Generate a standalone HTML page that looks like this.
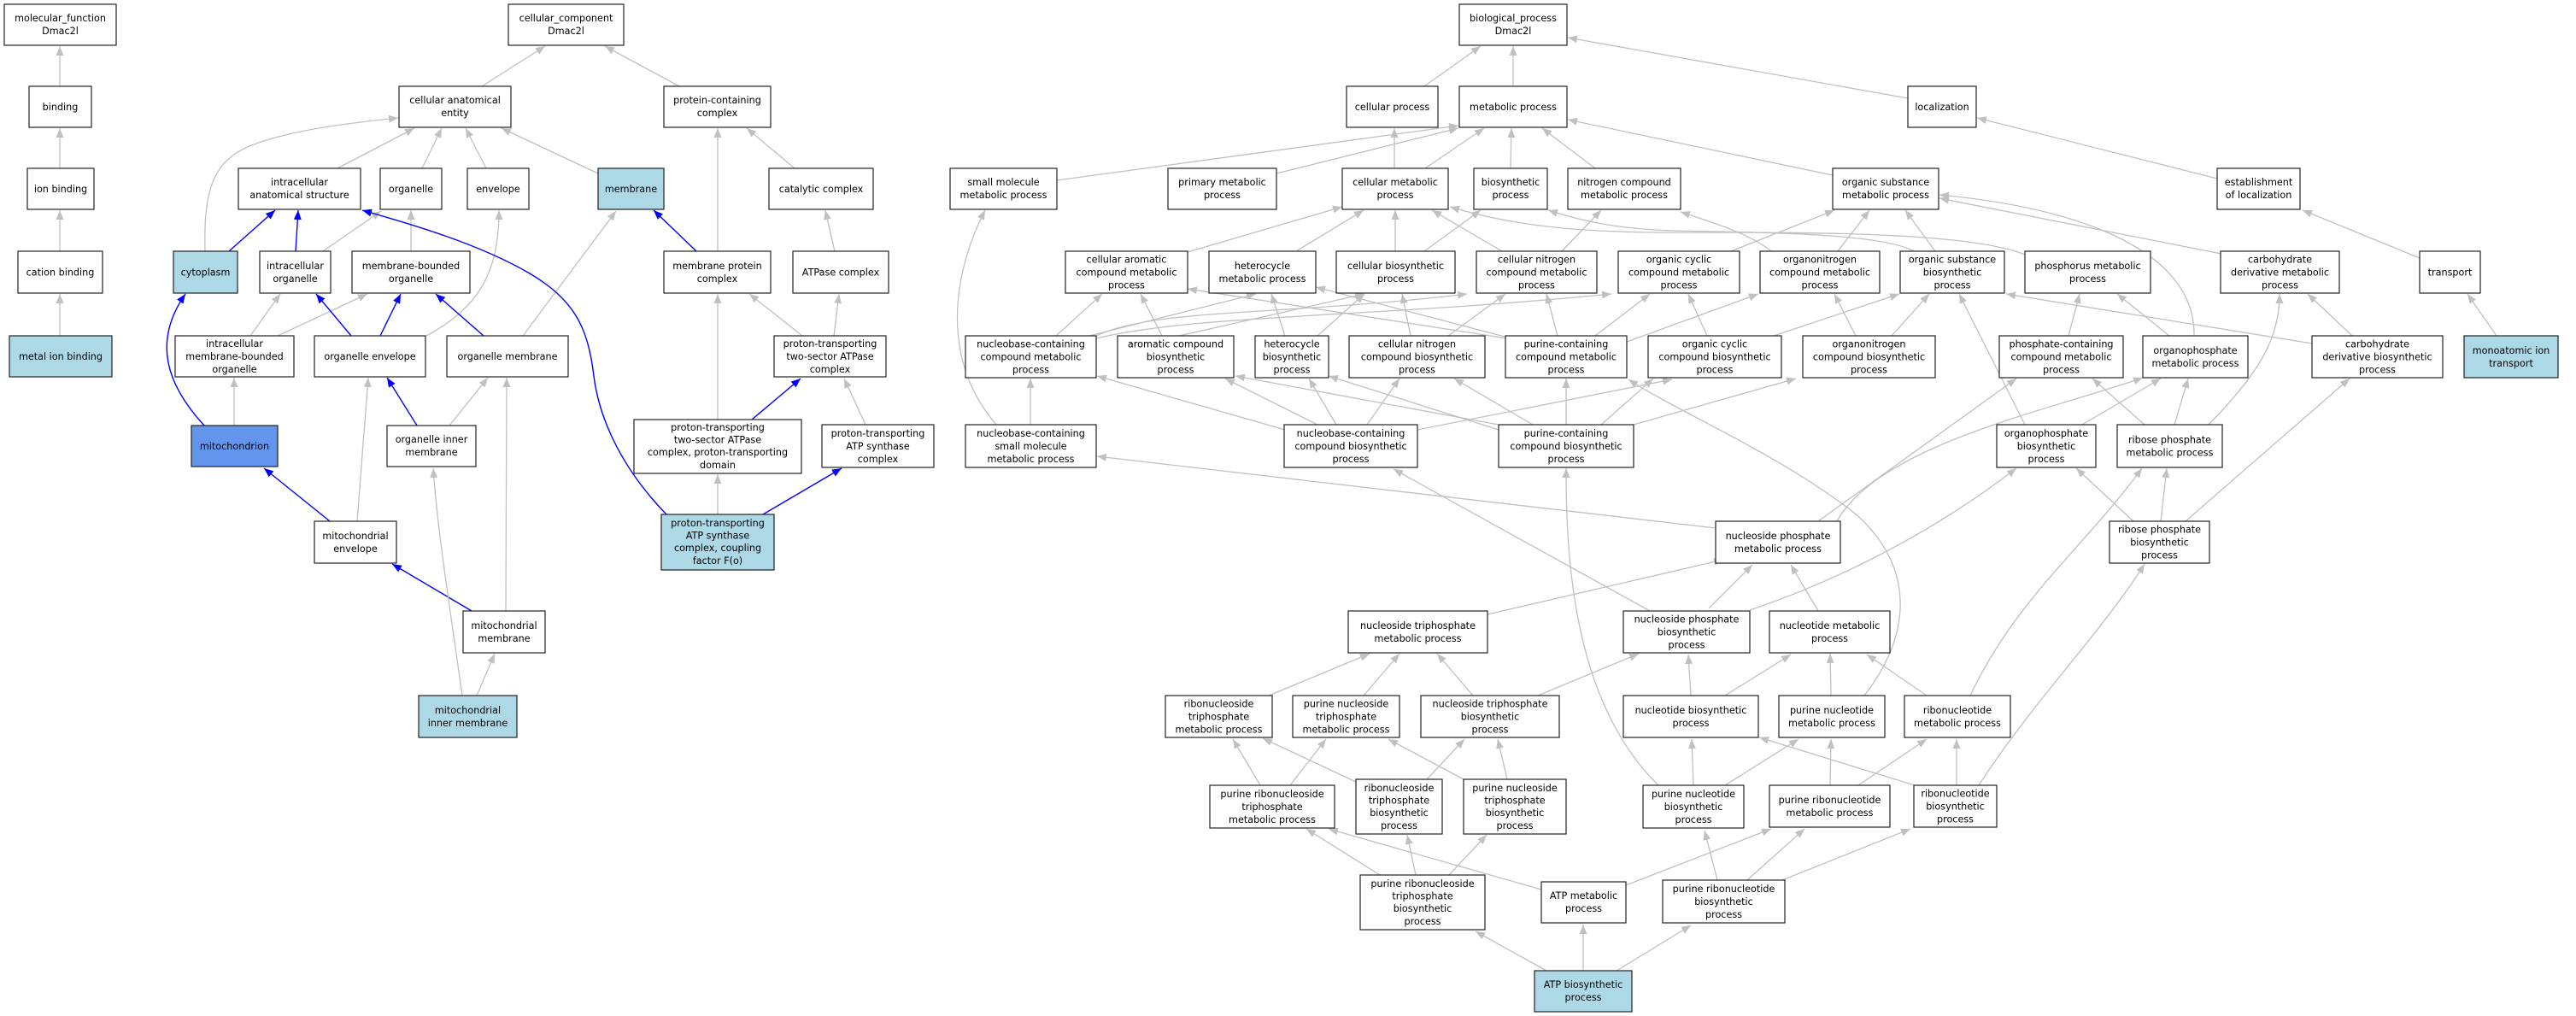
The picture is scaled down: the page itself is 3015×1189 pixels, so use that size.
<!DOCTYPE html>
<html><head><meta charset="utf-8"><style>
html,body{margin:0;padding:0;background:#fff;}
svg{display:block;}
text{font-family:"DejaVu Sans","Liberation Sans",sans-serif;font-size:11.2px;fill:#000;text-anchor:middle;}
.g{fill:none;stroke:#c0c0c0;stroke-width:1.3;marker-end:url(#ag);}
.b{fill:none;stroke:#0000ff;stroke-width:1.4;marker-end:url(#ab);}
rect{stroke:#222;stroke-width:1.2;fill:#fff;}
rect.lb{fill:#add8e6;}
rect.cb{fill:#6495ed;}
</style></head><body>
<svg width="3015" height="1189" viewBox="0 0 3015 1189" xmlns="http://www.w3.org/2000/svg">
<defs>
<marker id="ag" markerUnits="userSpaceOnUse" markerWidth="12" markerHeight="9" refX="11" refY="4.5" orient="auto"><path d="M0,0 L11,4.5 L0,9 z" fill="#c0c0c0"/></marker>
<marker id="ab" markerUnits="userSpaceOnUse" markerWidth="12" markerHeight="9" refX="11" refY="4.5" orient="auto"><path d="M0,0 L11,4.5 L0,9 z" fill="#0000ff"/></marker>
</defs>

<!-- ===== edges left ===== -->
<path class="g" d="M70,101 L70,54"/>
<path class="g" d="M70,197 L70,150"/>
<path class="g" d="M70,294 L70,246"/>
<path class="g" d="M70,393 L70,344"/>
<path class="g" d="M564,101 L638,54"/>
<path class="g" d="M795,101 L708,54"/>
<path class="g" d="M240,294 C238,220 250,185 300,168 C350,150 420,143 466,138"/>
<path class="g" d="M395,197 L485,150"/>
<path class="g" d="M494,197 L517,150"/>
<path class="g" d="M569,197 L545,150"/>
<path class="g" d="M700,203 L587,150"/>
<path class="g" d="M930,197 L874,150"/>
<path class="g" d="M840,294 L840,150"/>
<path class="b" d="M268,294 L322,246"/>
<path class="b" d="M346,294 L349,246"/>
<path class="g" d="M378,294 L446,247"/>
<path class="g" d="M481,294 L481,246"/>
<path class="b" d="M815,294 L765,246"/>
<path class="g" d="M977,294 L966,246"/>
<path class="g" d="M293,393 L328,344"/>
<path class="g" d="M325,393 L430,344"/>
<path class="b" d="M411,393 L370,344"/>
<path class="b" d="M445,393 L469,344"/>
<path class="g" d="M499,393 C560,360 584,320 584,246"/>
<path class="b" d="M566,393 L510,344"/>
<path class="g" d="M612,393 L721,247"/>
<path class="g" d="M939,393 L877,344"/>
<path class="g" d="M976,393 L982,344"/>
<path class="b" d="M239,498 C195,450 178,400 217,344"/>
<path class="g" d="M274,498 L274,442"/>
<path class="b" d="M488,498 L453,442"/>
<path class="g" d="M526,498 L571,442"/>
<path class="g" d="M840,491 L840,344"/>
<path class="b" d="M880,491 L937,443"/>
<path class="g" d="M1013,497 L988,443"/>
<path class="b" d="M386,610 L309,548"/>
<path class="g" d="M418,610 L431,442"/>
<path class="g" d="M840,602 L840,555"/>
<path class="b" d="M893,602 L985,548"/>
<path class="b" d="M780,602 C720,540 700,480 695,440 C688,380 670,350 620,320 C560,285 480,262 424,246"/>
<path class="b" d="M552,715 L459,660"/>
<path class="g" d="M592,715 L593,442"/>
<path class="g" d="M558,814 L579,765"/>
<path class="g" d="M541,814 C525,700 512,620 507,548"/>

<!-- ===== edges right ===== -->
<path class="g" d="M1667,101 L1733,54"/>
<path class="g" d="M1771,101 L1771,54"/>
<path class="g" d="M2233,115 L1835,44"/>
<path class="g" d="M1237,211 L1707,147"/>
<path class="g" d="M1494,203 L1707,150"/>
<path class="g" d="M1632,197 L1632,150"/>
<path class="g" d="M1668,197 L1737,150"/>
<path class="g" d="M1768,197 L1769,150"/>
<path class="g" d="M1867,197 L1805,150"/>
<path class="g" d="M2145,205 L1835,140"/>
<path class="g" d="M2595,209 L2314,138"/>
<path class="g" d="M2832,302 L2695,246"/>
<path class="g" d="M2922,393 L2888,344"/>
<path class="g" d="M1390,295 L1571,242"/>
<path class="g" d="M1517,294 L1596,246"/>
<path class="g" d="M1633,294 L1633,246"/>
<path class="g" d="M1667,294 L1733,246"/>
<path class="g" d="M1758,294 L1676,246"/>
<path class="g" d="M1828,294 L1874,246"/>
<path class="g" d="M2026,294 L2147,246"/>
<path class="g" d="M2151,294 L2188,246"/>
<path class="g" d="M2073,294 C2050,275 2010,262 1967,248"/>
<path class="g" d="M2265,294 L2230,246"/>
<path class="g" d="M2240,294 C2200,272 2050,272 1960,270 C1890,268 1850,258 1812,246"/>
<path class="g" d="M2370,298 C2300,270 2100,272 1950,272 C1820,272 1750,258 1697,242"/>
<path class="g" d="M2600,297 L2270,232"/>
<path class="g" d="M2568,393 C2570,300 2450,245 2270,228"/>
<!-- row E -> D -->
<path class="g" d="M1236,393 L1290,344"/>
<path class="g" d="M1275,393 L1470,344"/>
<path class="g" d="M1281,394 C1350,360 1500,370 1717,344"/>
<path class="g" d="M1283,396 C1400,368 1600,372 1886,344"/>
<path class="g" d="M1360,393 L1335,344"/>
<path class="g" d="M1380,393 L1597,344"/>
<path class="g" d="M1504,393 L1488,344"/>
<path class="g" d="M1542,393 L1597,344"/>
<path class="g" d="M1695,393 L1762,344"/>
<path class="g" d="M1651,393 L1641,344"/>
<path class="g" d="M1765,395 L1540,336"/>
<path class="g" d="M1770,397 L1390,338"/>
<path class="g" d="M1823,393 L1810,344"/>
<path class="g" d="M1867,393 L1931,344"/>
<path class="g" d="M1904,400 L2058,344"/>
<path class="g" d="M1998,393 L1976,344"/>
<path class="g" d="M2076,393 L2223,344"/>
<path class="g" d="M2172,393 L2147,344"/>
<path class="g" d="M2214,393 L2258,344"/>
<path class="g" d="M2421,393 L2434,344"/>
<path class="g" d="M2539,393 L2478,344"/>
<path class="g" d="M2753,393 L2701,344"/>
<path class="g" d="M2706,402 L2348,344"/>
<!-- row F -> E -->
<path class="g" d="M1206,497 L1206,443"/>
<path class="g" d="M1166,497 C1100,420 1115,320 1153,246"/>
<path class="g" d="M1504,503 L1284,440"/>
<path class="g" d="M1542,497 L1434,443"/>
<path class="g" d="M1564,497 L1532,443"/>
<path class="g" d="M1600,497 L1638,443"/>
<path class="g" d="M1659,503 L1957,444"/>
<path class="g" d="M1833,497 L1833,443"/>
<path class="g" d="M1754,503 L1555,440"/>
<path class="g" d="M1754,497 L1446,440"/>
<path class="g" d="M1794,497 L1702,443"/>
<path class="g" d="M1874,497 L1935,443"/>
<path class="g" d="M1912,497 L2102,443"/>
<path class="g" d="M2370,497 L2293,344"/>
<path class="g" d="M2437,497 L2529,443"/>
<path class="g" d="M2545,497 L2561,443"/>
<path class="g" d="M2510,497 L2449,443"/>
<path class="g" d="M2585,497 C2640,440 2668,400 2668,344"/>
<!-- lower -->
<path class="g" d="M2008,618 L1284,534"/>
<path class="g" d="M2128,610 L2360,443"/>
<path class="g" d="M2150,610 C2200,520 2400,480 2508,442"/>
<path class="g" d="M2529,610 L2536,548"/>
<path class="g" d="M2497,610 L2430,548"/>
<path class="g" d="M2558,610 L2750,443"/>
<path class="g" d="M2000,712 L2051,661"/>
<path class="g" d="M1931,715 L1631,549"/>
<path class="g" d="M2048,714 C2120,690 2240,640 2360,548"/>
<path class="g" d="M2128,715 L2096,661"/>
<path class="g" d="M1741,719 L2017,655"/>
<path class="g" d="M2143,814 L2142,765"/>
<path class="g" d="M2182,814 C2240,740 2240,660 2170,600 C2080,530 1960,480 1906,444"/>
<path class="g" d="M2255,814 L2185,766"/>
<path class="g" d="M2306,814 C2360,700 2440,640 2507,548"/>
<path class="g" d="M1979,814 L1976,766"/>
<path class="g" d="M2019,814 L2096,766"/>
<path class="g" d="M1982,919 L1980,865"/>
<path class="g" d="M1941,919 C1840,820 1833,650 1833,548"/>
<path class="g" d="M2019,919 L2105,865"/>
<path class="g" d="M2142,919 L2143,865"/>
<path class="g" d="M2175,919 L2255,865"/>
<path class="g" d="M2290,919 L2290,865"/>
<path class="g" d="M2241,919 L2059,863"/>
<path class="g" d="M2316,919 C2380,820 2460,740 2510,660"/>
<path class="g" d="M2045,1030 L2112,970"/>
<path class="g" d="M2010,1030 L1995,972"/>
<path class="g" d="M2086,1030 L2236,970"/>
<path class="g" d="M1724,814 L1682,765"/>
<path class="g" d="M1800,814 L1918,765"/>
<path class="g" d="M1485,814 L1603,765"/>
<path class="g" d="M1596,814 L1638,765"/>
<path class="g" d="M1475,919 L1443,865"/>
<path class="g" d="M1510,919 L1552,865"/>
<path class="g" d="M1587,915 L1478,864"/>
<path class="g" d="M1670,912 L1714,865"/>
<path class="g" d="M1713,912 L1625,865"/>
<path class="g" d="M1764,912 L1753,865"/>
<path class="g" d="M1615,1024 L1529,970"/>
<path class="g" d="M1657,1024 L1647,977"/>
<path class="g" d="M1696,1024 L1740,977"/>
<path class="g" d="M1804,1041 L1555,970"/>
<path class="g" d="M1903,1036 L2073,970"/>
<path class="g" d="M1810,1136 L1727,1090"/>
<path class="g" d="M1853,1136 L1853,1082"/>
<path class="g" d="M1892,1136 L1979,1083"/>

<!-- ===== nodes ===== -->
<rect x="5" y="5" width="131" height="48"/><text x="70.5" y="25">molecular_function<tspan x="70.5" dy="15">Dmac2l</tspan></text>
<rect x="34" y="101" width="73" height="48"/><text x="70.5" y="129">binding</text>
<rect x="32" y="197" width="78" height="48"/><text x="71" y="225">ion binding</text>
<rect x="21" y="294" width="99" height="49"/><text x="70.5" y="322.5">cation binding</text>
<rect class="lb" x="11" y="393" width="120" height="48"/><text x="71" y="421">metal ion binding</text>
<rect x="595" y="5" width="135" height="48"/><text x="662.5" y="25">cellular_component<tspan x="662.5" dy="15">Dmac2l</tspan></text>
<rect x="467" y="101" width="131" height="48"/><text x="532.5" y="121">cellular anatomical<tspan x="532.5" dy="15">entity</tspan></text>
<rect x="777" y="101" width="125" height="48"/><text x="839.5" y="121">protein-containing<tspan x="839.5" dy="15">complex</tspan></text>
<rect x="279" y="197" width="143" height="48"/><text x="350.5" y="217">intracellular<tspan x="350.5" dy="15">anatomical structure</tspan></text>
<rect x="445" y="197" width="72" height="48"/><text x="481" y="225">organelle</text>
<rect x="547" y="197" width="72" height="48"/><text x="583" y="225">envelope</text>
<rect class="lb" x="700" y="197" width="77" height="48"/><text x="738.5" y="225">membrane</text>
<rect x="900" y="197" width="122" height="48"/><text x="961" y="225">catalytic complex</text>
<rect class="lb" x="203" y="294" width="75" height="49"/><text x="240.5" y="322.5">cytoplasm</text>
<rect x="304" y="294" width="83" height="49"/><text x="345.5" y="315">intracellular<tspan x="345.5" dy="15">organelle</tspan></text>
<rect x="412" y="294" width="138" height="49"/><text x="481" y="315">membrane-bounded<tspan x="481" dy="15">organelle</tspan></text>
<rect x="777" y="294" width="125" height="49"/><text x="839.5" y="315">membrane protein<tspan x="839.5" dy="15">complex</tspan></text>
<rect x="928" y="294" width="112" height="49"/><text x="984" y="322.5">ATPase complex</text>
<rect x="205" y="393" width="139" height="48"/><text x="274.5" y="406">intracellular<tspan x="274.5" dy="15">membrane-bounded</tspan><tspan x="274.5" dy="15">organelle</tspan></text>
<rect x="368" y="393" width="130" height="48"/><text x="433" y="421">organelle envelope</text>
<rect x="523" y="393" width="142" height="48"/><text x="594" y="421">organelle membrane</text>
<rect x="906" y="393" width="131" height="48"/><text x="971.5" y="406">proton-transporting<tspan x="971.5" dy="15">two-sector ATPase</tspan><tspan x="971.5" dy="15">complex</tspan></text>
<rect class="cb" x="224" y="498" width="101" height="48"/><text x="274.5" y="526">mitochondrion</text>
<rect x="453" y="498" width="104" height="48"/><text x="505" y="518">organelle inner<tspan x="505" dy="15">membrane</tspan></text>
<rect x="742" y="491" width="196" height="63"/><text x="840" y="504">proton-transporting<tspan x="840" dy="14.6">two-sector ATPase</tspan><tspan x="840" dy="14.6">complex, proton-transporting</tspan><tspan x="840" dy="14.6">domain</tspan></text>
<rect x="962" y="497" width="131" height="50"/><text x="1027.5" y="511">proton-transporting<tspan x="1027.5" dy="15">ATP synthase</tspan><tspan x="1027.5" dy="15">complex</tspan></text>
<rect x="368" y="610" width="96" height="49"/><text x="416" y="631">mitochondrial<tspan x="416" dy="15">envelope</tspan></text>
<rect class="lb" x="774" y="602" width="132" height="65"/><text x="840" y="616">proton-transporting<tspan x="840" dy="14.6">ATP synthase</tspan><tspan x="840" dy="14.6">complex, coupling</tspan><tspan x="840" dy="14.6">factor F(o)</tspan></text>
<rect x="542" y="715" width="96" height="49"/><text x="590" y="736">mitochondrial<tspan x="590" dy="15">membrane</tspan></text>
<rect class="lb" x="490" y="814" width="115" height="49"/><text x="547.5" y="835">mitochondrial<tspan x="547.5" dy="15">inner membrane</tspan></text>

<rect x="1708" y="5" width="126" height="48"/><text x="1771" y="25">biological_process<tspan x="1771" dy="15">Dmac2l</tspan></text>
<rect x="1576" y="101" width="107" height="48"/><text x="1629.5" y="129">cellular process</text>
<rect x="1708" y="101" width="126" height="48"/><text x="1771" y="129">metabolic process</text>
<rect x="1112" y="197" width="125" height="48"/><text x="1174.5" y="217">small molecule<tspan x="1174.5" dy="15">metabolic process</tspan></text>
<rect x="1367" y="197" width="127" height="48"/><text x="1430.5" y="217">primary metabolic<tspan x="1430.5" dy="15">process</tspan></text>
<rect x="1571" y="197" width="124" height="48"/><text x="1633" y="217">cellular metabolic<tspan x="1633" dy="15">process</tspan></text>
<rect x="1725" y="197" width="86" height="48"/><text x="1768" y="217">biosynthetic<tspan x="1768" dy="15">process</tspan></text>
<rect x="1835" y="197" width="132" height="48"/><text x="1901" y="217">nitrogen compound<tspan x="1901" dy="15">metabolic process</tspan></text>
<rect x="1247" y="294" width="143" height="49"/><text x="1318.5" y="307.5">cellular aromatic<tspan x="1318.5" dy="15">compound metabolic</tspan><tspan x="1318.5" dy="15">process</tspan></text>
<rect x="1415" y="294" width="125" height="49"/><text x="1477.5" y="315">heterocycle<tspan x="1477.5" dy="15">metabolic process</tspan></text>
<rect x="1564" y="294" width="139" height="49"/><text x="1633.5" y="315">cellular biosynthetic<tspan x="1633.5" dy="15">process</tspan></text>
<rect x="1728" y="294" width="141" height="49"/><text x="1798.5" y="307.5">cellular nitrogen<tspan x="1798.5" dy="15">compound metabolic</tspan><tspan x="1798.5" dy="15">process</tspan></text>
<rect x="1894" y="294" width="142" height="49"/><text x="1965" y="307.5">organic cyclic<tspan x="1965" dy="15">compound metabolic</tspan><tspan x="1965" dy="15">process</tspan></text>
<rect x="1130" y="393" width="153" height="49"/><text x="1206.5" y="406.5">nucleobase-containing<tspan x="1206.5" dy="15">compound metabolic</tspan><tspan x="1206.5" dy="15">process</tspan></text>
<rect x="1308" y="393" width="136" height="49"/><text x="1376" y="406.5">aromatic compound<tspan x="1376" dy="15">biosynthetic</tspan><tspan x="1376" dy="15">process</tspan></text>
<rect x="1469" y="393" width="86" height="49"/><text x="1512" y="406.5">heterocycle<tspan x="1512" dy="15">biosynthetic</tspan><tspan x="1512" dy="15">process</tspan></text>
<rect x="1579" y="393" width="159" height="49"/><text x="1658.5" y="406.5">cellular nitrogen<tspan x="1658.5" dy="15">compound biosynthetic</tspan><tspan x="1658.5" dy="15">process</tspan></text>
<rect x="1762" y="393" width="142" height="49"/><text x="1833" y="406.5">purine-containing<tspan x="1833" dy="15">compound metabolic</tspan><tspan x="1833" dy="15">process</tspan></text>
<rect x="1929" y="393" width="156" height="49"/><text x="2007" y="406.5">organic cyclic<tspan x="2007" dy="15">compound biosynthetic</tspan><tspan x="2007" dy="15">process</tspan></text>
<rect x="1130" y="497" width="153" height="50"/><text x="1206.5" y="511">nucleobase-containing<tspan x="1206.5" dy="15">small molecule</tspan><tspan x="1206.5" dy="15">metabolic process</tspan></text>
<rect x="1503" y="497" width="156" height="50"/><text x="1581" y="511">nucleobase-containing<tspan x="1581" dy="15">compound biosynthetic</tspan><tspan x="1581" dy="15">process</tspan></text>
<rect x="1754" y="497" width="158" height="50"/><text x="1833" y="511">purine-containing<tspan x="1833" dy="15">compound biosynthetic</tspan><tspan x="1833" dy="15">process</tspan></text>
<rect x="2233" y="101" width="80" height="48"/><text x="2273" y="129">localization</text>
<rect x="2145" y="197" width="124" height="48"/><text x="2207" y="217">organic substance<tspan x="2207" dy="15">metabolic process</tspan></text>
<rect x="2595" y="197" width="97" height="48"/><text x="2643.5" y="217">establishment<tspan x="2643.5" dy="15">of localization</tspan></text>
<rect x="2060" y="294" width="140" height="49"/><text x="2130" y="307.5">organonitrogen<tspan x="2130" dy="15">compound metabolic</tspan><tspan x="2130" dy="15">process</tspan></text>
<rect x="2224" y="294" width="122" height="49"/><text x="2285" y="307.5">organic substance<tspan x="2285" dy="15">biosynthetic</tspan><tspan x="2285" dy="15">process</tspan></text>
<rect x="2370" y="294" width="147" height="49"/><text x="2443.5" y="315">phosphorus metabolic<tspan x="2443.5" dy="15">process</tspan></text>
<rect x="2599" y="294" width="139" height="49"/><text x="2668.5" y="307.5">carbohydrate<tspan x="2668.5" dy="15">derivative metabolic</tspan><tspan x="2668.5" dy="15">process</tspan></text>
<rect x="2832" y="294" width="71" height="49"/><text x="2867.5" y="322.5">transport</text>
<rect x="2110" y="393" width="155" height="49"/><text x="2187.5" y="406.5">organonitrogen<tspan x="2187.5" dy="15">compound biosynthetic</tspan><tspan x="2187.5" dy="15">process</tspan></text>
<rect x="2340" y="393" width="145" height="49"/><text x="2412.5" y="406.5">phosphate-containing<tspan x="2412.5" dy="15">compound metabolic</tspan><tspan x="2412.5" dy="15">process</tspan></text>
<rect x="2508" y="393" width="123" height="49"/><text x="2569.5" y="414">organophosphate<tspan x="2569.5" dy="15">metabolic process</tspan></text>
<rect x="2706" y="393" width="153" height="49"/><text x="2782.5" y="406.5">carbohydrate<tspan x="2782.5" dy="15">derivative biosynthetic</tspan><tspan x="2782.5" dy="15">process</tspan></text>
<rect class="lb" x="2884" y="393" width="110" height="49"/><text x="2939" y="414">monoatomic ion<tspan x="2939" dy="15">transport</tspan></text>
<rect x="2337" y="497" width="116" height="50"/><text x="2395" y="511">organophosphate<tspan x="2395" dy="15">biosynthetic</tspan><tspan x="2395" dy="15">process</tspan></text>
<rect x="2478" y="497" width="123" height="50"/><text x="2539.5" y="518.5">ribose phosphate<tspan x="2539.5" dy="15">metabolic process</tspan></text>
<rect x="2469" y="610" width="117" height="49"/><text x="2527.5" y="623.5">ribose phosphate<tspan x="2527.5" dy="15">biosynthetic</tspan><tspan x="2527.5" dy="15">process</tspan></text>
<rect x="2008" y="610" width="146" height="49"/><text x="2081" y="631">nucleoside phosphate<tspan x="2081" dy="15">metabolic process</tspan></text>
<rect x="2071" y="715" width="141" height="49"/><text x="2141.5" y="736">nucleotide metabolic<tspan x="2141.5" dy="15">process</tspan></text>
<rect x="2082" y="814" width="124" height="49"/><text x="2144" y="835">purine nucleotide<tspan x="2144" dy="15">metabolic process</tspan></text>
<rect x="2229" y="814" width="124" height="49"/><text x="2291" y="835">ribonucleotide<tspan x="2291" dy="15">metabolic process</tspan></text>
<rect x="2071" y="919" width="141" height="49"/><text x="2141.5" y="940">purine ribonucleotide<tspan x="2141.5" dy="15">metabolic process</tspan></text>
<rect x="2240" y="919" width="97" height="49"/><text x="2288.5" y="932.5">ribonucleotide<tspan x="2288.5" dy="15">biosynthetic</tspan><tspan x="2288.5" dy="15">process</tspan></text>
<rect x="1946" y="1030" width="143" height="50"/><text x="2017.5" y="1044">purine ribonucleotide<tspan x="2017.5" dy="15">biosynthetic</tspan><tspan x="2017.5" dy="15">process</tspan></text>
<rect x="1578" y="715" width="163" height="49"/><text x="1659.5" y="736">nucleoside triphosphate<tspan x="1659.5" dy="15">metabolic process</tspan></text>
<rect x="1900" y="715" width="148" height="49"/><text x="1974" y="728.5">nucleoside phosphate<tspan x="1974" dy="15">biosynthetic</tspan><tspan x="1974" dy="15">process</tspan></text>
<rect x="1364" y="814" width="125" height="49"/><text x="1426.5" y="827.5">ribonucleoside<tspan x="1426.5" dy="15">triphosphate</tspan><tspan x="1426.5" dy="15">metabolic process</tspan></text>
<rect x="1513" y="814" width="125" height="49"/><text x="1575.5" y="827.5">purine nucleoside<tspan x="1575.5" dy="15">triphosphate</tspan><tspan x="1575.5" dy="15">metabolic process</tspan></text>
<rect x="1663" y="814" width="162" height="49"/><text x="1744" y="827.5">nucleoside triphosphate<tspan x="1744" dy="15">biosynthetic</tspan><tspan x="1744" dy="15">process</tspan></text>
<rect x="1900" y="814" width="158" height="49"/><text x="1979" y="835">nucleotide biosynthetic<tspan x="1979" dy="15">process</tspan></text>
<rect x="1416" y="919" width="146" height="50"/><text x="1489" y="933">purine ribonucleoside<tspan x="1489" dy="15">triphosphate</tspan><tspan x="1489" dy="15">metabolic process</tspan></text>
<rect x="1587" y="912" width="101" height="64"/><text x="1637.5" y="926">ribonucleoside<tspan x="1637.5" dy="14.6">triphosphate</tspan><tspan x="1637.5" dy="14.6">biosynthetic</tspan><tspan x="1637.5" dy="14.6">process</tspan></text>
<rect x="1713" y="912" width="120" height="64"/><text x="1773" y="926">purine nucleoside<tspan x="1773" dy="14.6">triphosphate</tspan><tspan x="1773" dy="14.6">biosynthetic</tspan><tspan x="1773" dy="14.6">process</tspan></text>
<rect x="1923" y="919" width="118" height="50"/><text x="1982" y="933">purine nucleotide<tspan x="1982" dy="15">biosynthetic</tspan><tspan x="1982" dy="15">process</tspan></text>
<rect x="1592" y="1024" width="146" height="64"/><text x="1665" y="1038">purine ribonucleoside<tspan x="1665" dy="14.6">triphosphate</tspan><tspan x="1665" dy="14.6">biosynthetic</tspan><tspan x="1665" dy="14.6">process</tspan></text>
<rect x="1804" y="1032" width="99" height="48"/><text x="1853.5" y="1052">ATP metabolic<tspan x="1853.5" dy="15">process</tspan></text>
<rect class="lb" x="1796" y="1136" width="114" height="48"/><text x="1853" y="1156">ATP biosynthetic<tspan x="1853" dy="15">process</tspan></text>
</svg>
</body></html>
